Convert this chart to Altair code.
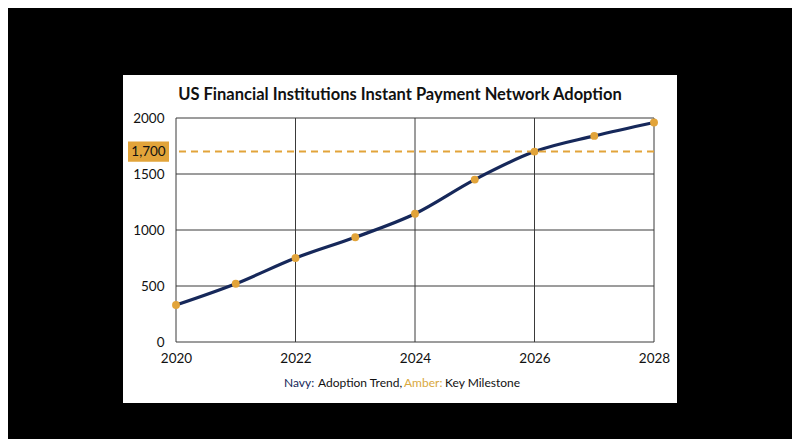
import altair as alt
import pandas as pd

years = [2020, 2021, 2022, 2023, 2024, 2025, 2026, 2027, 2028]
adoption = [330, 520, 750, 935, 1145, 1450, 1700, 1840, 1960]
milestone = 1700
milestone_label = "1,700"
title_text = "US Financial Institutions Instant Payment Network Adoption"
x_ticks = [2020, 2022, 2024, 2026, 2028]
y_ticks = [0, 500, 1000, 1500, 2000]

NAVY = "#16285A"
AMBER = "#E2A43A"
GRID = "#3a3a3a"
FONT = "Lato"

df = pd.DataFrame({"year": years, "value": adoption})

W, H = 478, 224

xs = alt.Scale(domain=[2020, 2028], nice=False, zero=False)
ys = alt.Scale(domain=[0, 2000], nice=False)

x_axis = alt.Axis(values=x_ticks, format="d", title=None, ticks=False,
                  labelPadding=9, labelFontSize=13.5, labelFont=FONT,
                  labelColor="#111", domain=False, grid=False, zindex=1,
                  labelFlush=False)
y_axis = alt.Axis(values=y_ticks, format="d", title=None, ticks=False, labelPadding=12,
                  labelFontSize=13.5, labelFont=FONT, labelColor="#111",
                  domain=False, grid=False, zindex=1)

card = alt.Chart(pd.DataFrame({"a": [0]})).mark_rect(color="white", clip=False).encode(
    x=alt.value(-53), x2=alt.value(501), y=alt.value(-43), y2=alt.value(285))

vgrid = alt.Chart(pd.DataFrame({"g": x_ticks})).mark_rule(color=GRID, strokeWidth=1).encode(
    x=alt.X("g:Q", scale=xs, axis=x_axis))
hgrid = alt.Chart(pd.DataFrame({"g": y_ticks})).mark_rule(color=GRID, strokeWidth=1).encode(
    y=alt.Y("g:Q", scale=ys, axis=y_axis))

base = alt.Chart(df)
line = base.mark_line(color=NAVY, strokeWidth=3.2, interpolate="monotone").encode(
    x=alt.X("year:Q", scale=xs, axis=x_axis), y=alt.Y("value:Q", scale=ys, axis=y_axis))
pts = base.mark_circle(color=AMBER, size=62, opacity=1).encode(
    x=alt.X("year:Q", scale=xs), y=alt.Y("value:Q", scale=ys))

rule = alt.Chart(pd.DataFrame({"v": [milestone]})).mark_rule(
    color=AMBER, strokeWidth=2, strokeDash=[7, 5]).encode(y=alt.Y("v:Q", scale=ys))

box = alt.Chart(pd.DataFrame({"v": [milestone]})).mark_rect(color=AMBER, clip=False).encode(
    x=alt.value(-48), x2=alt.value(-7), y=alt.datum(1790), y2=alt.datum(1610))
box_text = alt.Chart(pd.DataFrame({"t": [milestone_label], "v": [milestone]})).mark_text(
    fontSize=13.5, font=FONT, color="#111", align="center", baseline="middle").encode(
    x=alt.value(-27.5), y=alt.Y("v:Q", scale=ys), text="t:N")

title = alt.Chart(pd.DataFrame({"t": [title_text]})).mark_text(
    fontSize=16.5, font=FONT, fontWeight="bold", color="#111", align="center",
    baseline="middle").encode(x=alt.value(224), y=alt.value(-23), text="t:N")

foot_parts = [("Navy:", NAVY, 108), ("Adoption Trend,", "#111", 142),
              ("Amber:", "#D9A93E", 228), ("Key Milestone", "#111", 269)]
foot = []
for t, c, px in foot_parts:
    foot.append(alt.Chart(pd.DataFrame({"t": [t]})).mark_text(
        fontSize=12, font=FONT, color=c, align="left", baseline="middle").encode(
        x=alt.value(px), y=alt.value(265), text="t:N"))

chart = alt.layer(card, vgrid, hgrid, line, rule, pts, box, box_text, title, *foot).properties(
    width=W, height=H,
    padding={"left": 168, "top": 110, "right": 138, "bottom": 97},
    autosize=alt.AutoSizeParams(type="none"),
    background="black",
).configure_view(strokeWidth=0)

chart.save("out.html", embed_options={"renderer": "svg", "actions": False})
